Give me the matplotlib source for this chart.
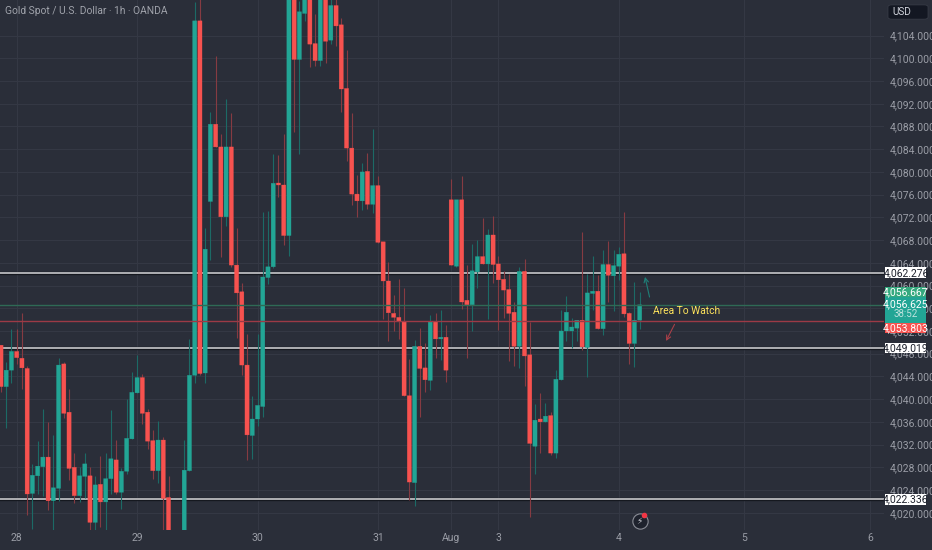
import matplotlib
matplotlib.use("Agg")
import matplotlib.pyplot as plt
import numpy as np
from matplotlib.patches import Rectangle, FancyBboxPatch
from matplotlib.transforms import blended_transform_factory

plt.rcParams['font.family'] = ['Liberation Sans Narrow', 'Roboto', 'DejaVu Sans']

# hourly candles
opens = [4049.5, 4042.2, 4045.1, 4048.4, 4047.2, 4045.4, 4023.4, 4026.5, 4028.1, 4029.8,
         4022.1, 4024.3, 4046.2, 4037.7, 4028.0, 4023.0, 4026.4, 4026.5, 4018.3, 4025.0,
         4021.9, 4026.0, 4029.3, 4023.6, 4027.3, 4033.0, 4041.1, 4043.8, 4037.7, 4032.7,
         4027.4, 4032.8, 4022.7, 4014.0, 4011.0, 4012.0, 4027.4, 4044.2, 4106.6, 4044.6,
         4074.8, 4088.4, 4084.4, 4072.1, 4084.4, 4063.6, 4058.9, 4046.0, 4033.6, 4036.5,
         4038.7, 4061.4, 4063.3, 4078.05, 4077.7, 4068.8, 4113.0, 4099.8, 4107.9, 4112.0,
         4102.6, 4099.6, 4112.0, 4103.2, 4109.3, 4105.9, 4094.7, 4084.2, 4076.1, 4074.9,
         4080.1, 4074.3, 4077.6, 4067.7, 4060.8, 4055.1, 4054.4, 4053.7, 4040.6, 4025.3,
         4049.3, 4045.5, 4043.3, 4053.7, 4050.6, 4050.9, 4075.1, 4063.4, 4075.1, 4057.4,
         4056.6, 4062.4, 4065.1, 4063.8, 4068.9, 4063.8, 4061.1, 4059.3, 4055.3, 4049.3,
         4062.5, 4047.8, 4031.7, 4036.5, 4036.0, 4037.1, 4030.5, 4043.4, 4052.0, 4052.0,
         4052.5, 4053.9, 4049.1, 4058.6, 4059.0, 4052.4, 4063.7, 4061.7, 4063.4, 4065.6,
         4055.1, 4049.8, 4053.9]
closes = [4042.2, 4045.1, 4048.4, 4047.3, 4045.5, 4023.3, 4026.6, 4028.2, 4029.8, 4022.1,
          4024.4, 4046.0, 4037.5, 4027.8, 4023.0, 4026.5, 4028.6, 4018.3, 4024.9, 4021.9,
          4026.0, 4029.5, 4023.6, 4027.3, 4033.1, 4041.2, 4043.8, 4037.5, 4032.6, 4027.4,
          4032.8, 4022.5, 4014.0, 4011.0, 4012.0, 4027.5, 4044.2, 4106.6, 4044.5, 4066.4,
          4088.4, 4084.4, 4072.1, 4084.4, 4063.6, 4058.7, 4046.0, 4033.7, 4036.5, 4038.9,
          4061.5, 4063.3, 4078.0, 4077.7, 4068.8, 4113.0, 4099.8, 4108.2, 4112.0, 4102.5,
          4099.6, 4112.0, 4103.0, 4109.3, 4105.7, 4094.6, 4084.2, 4076.1, 4074.9, 4080.0,
          4074.3, 4077.6, 4067.6, 4060.8, 4055.2, 4054.4, 4053.7, 4040.6, 4025.4, 4049.3,
          4045.4, 4043.4, 4053.6, 4050.6, 4050.9, 4045.1, 4063.6, 4075.1, 4057.1, 4056.6,
          4062.6, 4065.1, 4063.8, 4068.9, 4063.7, 4061.0, 4059.2, 4055.1, 4049.3, 4062.5,
          4047.6, 4032.2, 4036.3, 4036.0, 4037.0, 4030.5, 4043.5, 4052.0, 4055.3, 4052.7,
          4053.9, 4049.2, 4058.7, 4059.0, 4052.4, 4063.7, 4061.8, 4063.5, 4065.5, 4055.0,
          4049.8, 4053.9, 4056.6]
highs = [4049.5, 4046.6, 4052.3, 4052.3, 4055.1, 4045.8, 4028.6, 4032.6, 4038.2, 4035.9,
         4033.6, 4047.2, 4046.6, 4041.7, 4030.6, 4028.1, 4030.5, 4028.1, 4026.4, 4029.9,
         4030.6, 4038.1, 4032.8, 4027.8, 4040.0, 4044.8, 4047.8, 4044.5, 4038.3, 4034.6,
         4036.2, 4033.4, 4026.5, 4015.0, 4014.0, 4032.8, 4050.6, 4110.0, 4112.0, 4070.1,
         4090.6, 4100.4, 4086.6, 4092.8, 4090.3, 4070.2, 4060.4, 4051.4, 4040.5, 4051.4,
         4072.9, 4073.1, 4083.2, 4082.9, 4086.7, 4115.0, 4114.0, 4110.1, 4113.0, 4113.0,
         4107.8, 4113.0, 4113.0, 4111.0, 4111.0, 4107.1, 4101.5, 4090.3, 4079.5, 4081.5,
         4083.3, 4087.6, 4079.2, 4067.7, 4064.1, 4058.3, 4061.1, 4059.5, 4047.0, 4050.4,
         4052.6, 4049.9, 4054.8, 4055.2, 4055.7, 4053.0, 4078.7, 4075.1, 4079.2, 4063.6,
         4067.3, 4068.1, 4071.9, 4069.9, 4072.2, 4065.2, 4062.6, 4062.0, 4057.1, 4063.2,
         4064.7, 4053.6, 4039.1, 4041.0, 4039.3, 4037.8, 4045.1, 4055.7, 4058.2, 4054.3,
         4053.9, 4069.4, 4062.0, 4065.2, 4061.9, 4066.2, 4067.8, 4066.2, 4066.7, 4072.9,
         4055.4, 4060.7, 4058.8]
lows = [4041.3, 4034.9, 4042.9, 4046.2, 4041.7, 4019.6, 4017.2, 4023.3, 4023.0, 4020.4,
        4017.0, 4022.1, 4036.7, 4025.8, 4021.8, 4021.9, 4022.6, 4016.5, 4016.9, 4017.5,
        4016.9, 4023.3, 4023.3, 4020.6, 4026.8, 4033.0, 4041.1, 4035.7, 4031.3, 4026.0,
        4025.2, 4016.9, 4012.0, 4009.0, 4009.0, 4010.0, 4027.4, 4042.8, 4044.2, 4042.9,
        4064.5, 4084.4, 4065.0, 4070.4, 4063.3, 4050.8, 4044.2, 4029.3, 4029.4, 4035.3,
        4036.9, 4060.3, 4063.0, 4075.6, 4067.1, 4065.2, 4087.1, 4083.2, 4106.6, 4098.5,
        4098.7, 4098.7, 4099.2, 4102.5, 4102.2, 4090.5, 4082.0, 4074.2, 4072.1, 4073.3,
        4073.5, 4072.7, 4067.4, 4054.1, 4050.3, 4052.0, 4050.6, 4040.6, 4022.2, 4021.1,
        4036.9, 4041.3, 4041.6, 4047.2, 4046.9, 4043.1, 4063.6, 4063.3, 4055.9, 4047.3,
        4052.0, 4059.5, 4063.8, 4054.1, 4060.5, 4052.2, 4054.2, 4046.7, 4045.8, 4045.5,
        4042.3, 4019.3, 4026.8, 4030.5, 4036.0, 4030.2, 4029.6, 4043.4, 4050.2, 4049.0,
        4050.2, 4048.6, 4043.9, 4055.7, 4052.4, 4051.3, 4057.1, 4055.6, 4061.0, 4054.4,
        4046.2, 4045.6, 4052.4]

day_labels = ['28', '29', '30', '31', 'Aug', '3', '4', '5', '6']
day_bars = [3, 26, 49, 72, 86, 95, 118, 142, 166]
price_ticks = list(range(4020, 4108, 4))
white_levels = [4062.276, 4049.019, 4022.336]
last_price = 4056.625
other_price = 4053.803
bid_price = 4056.667
countdown = '38:52'

BG = '#2a2e39'
GRID = '#343844'
UP = '#22a595'
DOWN = '#f7524f'
UP_WICK = '#1c6a66'
DOWN_WICK = '#863b42'
LABEL = '#9a9da6'
FS = 7.5

fig = plt.figure(figsize=(9.32, 5.5), dpi=100, facecolor=BG)
ax = fig.add_axes([0, 20 / 550, 884 / 932, 530 / 550], facecolor=BG)
ax.set_xlim(-0.19, 168.67)
ax.set_ylim(4016.96, 4110.268)

o = np.array(opens)
c = np.array(closes)
h = np.array(highs)
l = np.array(lows)
xs = np.arange(len(o))
up = c >= o

ax.vlines(xs[up], l[up], h[up], color=UP_WICK, lw=0.8, zorder=3)
ax.vlines(xs[~up], l[~up], h[~up], color=DOWN_WICK, lw=0.8, zorder=3)
ax.bar(xs[up], (c - o)[up], bottom=o[up], width=0.8, color=UP, ec=UP, lw=0.2, snap=False, zorder=4)
ax.bar(xs[~up], (c - o)[~up], bottom=o[~up], width=0.8, color=DOWN, ec=DOWN, lw=0.2, snap=False, zorder=4)

for lev in white_levels:
    ax.axhline(lev, color='#15181f', lw=2.4, zorder=2)
    ax.axhline(lev, color='#d8d9dc', lw=1.1, zorder=2.2)
ax.axhline(last_price, color='#2f6a55', lw=1.0, zorder=4.5)
ax.axhline(other_price, color='#9c3a46', lw=1.0, zorder=4.5)

ax.set_xticks(day_bars)
ax.set_xticklabels(day_labels)
ax.set_yticks(price_ticks)
ax.set_yticklabels([f'{p:,.3f}' for p in price_ticks])
ax.yaxis.tick_right()
ax.tick_params(axis='both', length=0, labelsize=FS, labelcolor=LABEL)
ax.tick_params(axis='y', pad=4.3)
ax.tick_params(axis='x', pad=2.5)
ax.grid(True, color=GRID, lw=0.8, zorder=0)
ax.set_axisbelow(True)
for s in ax.spines.values():
    s.set_visible(False)

trans = blended_transform_factory(ax.transAxes, ax.transData)


def price_tag(top, bottom, text, fc, tc, text_at=None):
    # box on the price scale, top/bottom in price units
    ax.add_patch(Rectangle((885 / 884, bottom), 41 / 884, top - bottom, transform=trans,
                           fc=fc, ec='none', clip_on=False, zorder=6))
    ax.text(906 / 884, (top + bottom) / 2 if text_at is None else text_at, text, transform=trans,
            ha='center', va='center', color=tc, fontsize=FS, clip_on=False, zorder=7)


for lev in white_levels:
    price_tag(lev + 0.9, lev - 0.95, f'{lev:,.3f}', 'white', '#1e222d')
price_tag(4059.74, 4057.93, f'{bid_price:,.3f}', '#35a97e', 'white')
price_tag(4057.93, 4053.35, f'{last_price:,.3f}', '#22a595', 'white', text_at=4056.75)
ax.text(906 / 884, 4055.0, countdown, transform=trans, ha='center', va='center',
        color='#bfe3de', fontsize=7, clip_on=False, zorder=7)
price_tag(4053.35, 4051.69, f'{other_price:,.3f}', DOWN, 'white')

# usd box
ax.add_patch(FancyBboxPatch((888 / 884, 4106.9), 40 / 884, 2.5, transform=trans,
                            boxstyle='round,pad=0,rounding_size=0.004', fc='#131722',
                            ec='#3a3e49', lw=0.5, clip_on=False, zorder=6, mutation_aspect=90))
ax.text(892.5 / 884, 4108.15, 'USD', transform=trans, ha='left', va='center', color='#d1d4dc',
        fontsize=7.2, clip_on=False, zorder=7)

ax.text(5 / 884, 4108.3, 'Gold Spot / U.S. Dollar · 1h · OANDA', transform=trans, ha='left',
        va='center', color='#a0a3ab', fontsize=7.4, zorder=7)

# drawings on the chart
ax.annotate('', xy=(122.9, 4062.0), xytext=(124, 4057.5),
            arrowprops=dict(arrowstyle='->', color='#1f7f78', lw=0.8, mutation_scale=8), zorder=7)
ax.annotate('', xy=(126.8, 4049.8), xytext=(128.9, 4053.6),
            arrowprops=dict(arrowstyle='->', color='#a83f48', lw=0.8, mutation_scale=8), zorder=7)
ax.text(130.9, 4055.5, 'Area To Watch', color='#ffe45c', fontsize=7.4, ha='center', va='center',
        zorder=7)

# lightning badge under the last bars
ax.plot([122], [4018.5], 'o', ms=11, mfc='#1e222d', mec='#8a8d96', mew=0.8, zorder=6)
ax.text(122, 4018.5, '⚡', color='#c9cbd1', fontsize=6.5, ha='center', va='center', zorder=7,
        family=['DejaVu Sans'])
ax.plot([122.9], [4019.6], 'o', ms=3, color='#f23645', zorder=8)

fig.savefig('out.png', dpi=100, facecolor=BG)
